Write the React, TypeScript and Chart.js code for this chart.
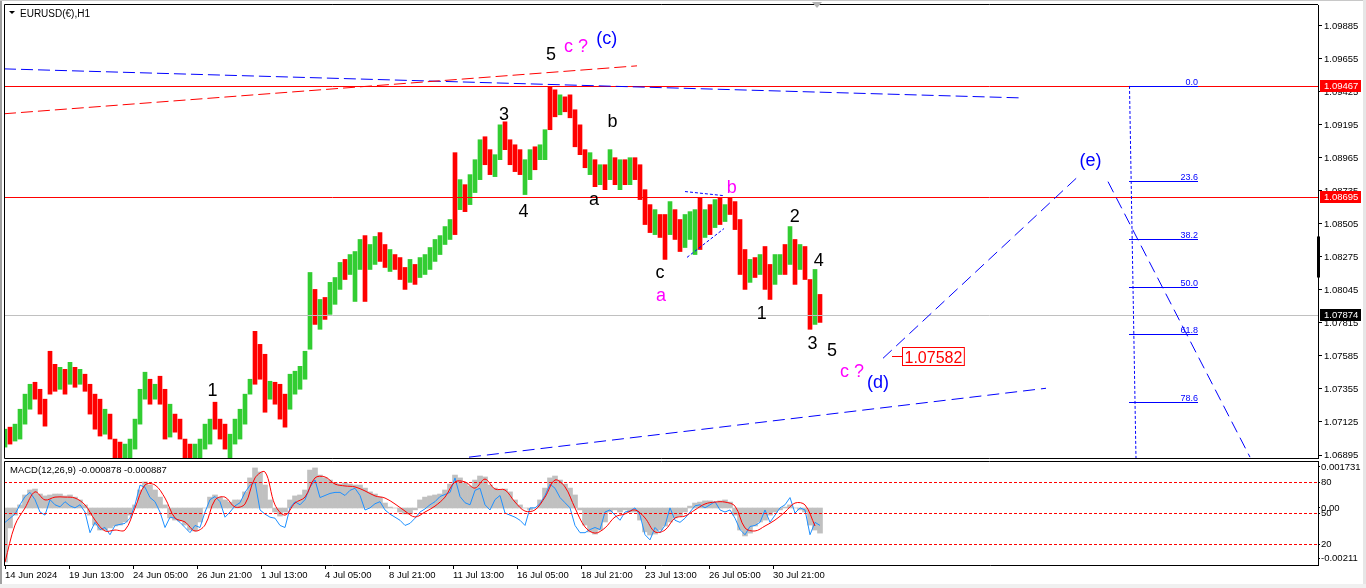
import React, { useEffect, useRef } from "react";
import { Chart, registerables } from "chart.js";

Chart.register(...registerables);

// ---------- data ----------
const BAR_STEP_H = 5; // trading hours per drawn bar
const SIGNAL_STEP_H = 10;

const barHigh = [
  1.07075, 1.07089, 1.0711, 1.07214, 1.07319, 1.07388, 1.07402, 1.07353, 1.07284, 1.07618,
  1.07527, 1.07506, 1.07492, 1.07541, 1.07506, 1.07492, 1.07458, 1.07388, 1.07319, 1.07284,
  1.07214, 1.0718, 1.07006, 1.06985, 1.06971, 1.07006, 1.07145, 1.07353, 1.07472, 1.07423,
  1.07388, 1.07444, 1.07353, 1.07249, 1.0718, 1.07145, 1.07006, 1.06971, 1.06971, 1.07006,
  1.0711, 1.07145, 1.07263, 1.07145, 1.0711, 1.0704, 1.07145, 1.07214, 1.07319, 1.07423,
  1.07757, 1.07666, 1.07597, 1.07409, 1.07402, 1.07388, 1.07319, 1.07458, 1.07479, 1.07513,
  1.07618, 1.08167, 1.08049, 1.07979, 1.07993, 1.08098, 1.08132, 1.08237, 1.08258, 1.08292,
  1.08313, 1.08397, 1.08424, 1.08362, 1.08418, 1.08445, 1.08362, 1.08327, 1.08292, 1.08271,
  1.08202, 1.08258, 1.08223, 1.08271, 1.08292, 1.08341, 1.08397, 1.08424, 1.08487, 1.08536,
  1.09002, 1.08814, 1.08779, 1.08849, 1.08953, 1.09092, 1.09113, 1.09023, 1.08988, 1.09196,
  1.09217, 1.09092, 1.09057, 1.09023, 1.08953, 1.09023, 1.09043, 1.09057, 1.09162, 1.09461,
  1.0944, 1.09405, 1.09391, 1.09405, 1.09301, 1.09196, 1.09023, 1.09002, 1.08953, 1.08918,
  1.08918, 1.09023, 1.08967, 1.08953, 1.08953, 1.08967, 1.08967, 1.08918, 1.08744, 1.0864,
  1.08605, 1.08571, 1.08571, 1.08661, 1.08605, 1.08536, 1.08571, 1.08591, 1.08605, 1.08689,
  1.08605, 1.0864, 1.08675, 1.08689, 1.0864, 1.08689, 1.08661, 1.08536, 1.08327, 1.08258,
  1.08271, 1.08292, 1.08348, 1.08223, 1.08292, 1.08292, 1.08362, 1.08487, 1.08397, 1.08362,
  1.08348, 1.08118, 1.08188, 1.08014,
];

const barLow = [
  1.0695, 1.06971, 1.06992, 1.07006, 1.0711, 1.07214, 1.07284, 1.0718, 1.07096, 1.07319,
  1.07339, 1.07353, 1.07319, 1.07388, 1.07367, 1.07388, 1.07339, 1.0718, 1.07075, 1.07027,
  1.0704, 1.07006, 1.0685, 1.0684, 1.0685, 1.0686, 1.06936, 1.0711, 1.07284, 1.07249,
  1.07284, 1.07249, 1.07006, 1.0702, 1.07054, 1.07006, 1.0685, 1.0684, 1.0685, 1.0686,
  1.06936, 1.06971, 1.07075, 1.07006, 1.06936, 1.0686, 1.06971, 1.07006, 1.0711, 1.07319,
  1.07388, 1.07423, 1.07193, 1.07284, 1.07249, 1.07145, 1.07089, 1.07214, 1.07319, 1.07353,
  1.07423, 1.07632, 1.07805, 1.07771, 1.0784, 1.07875, 1.07945, 1.08049, 1.08118, 1.08153,
  1.07965, 1.08188, 1.07965, 1.08188, 1.08223, 1.08244, 1.08202, 1.08174, 1.08188, 1.08118,
  1.08049, 1.08098, 1.08084, 1.08132, 1.08153, 1.08188, 1.08244, 1.08292, 1.08362, 1.08397,
  1.08431, 1.08605, 1.08591, 1.0864, 1.08724, 1.08814, 1.08918, 1.08849, 1.08835, 1.08953,
  1.09023, 1.08918, 1.0887, 1.08849, 1.0871, 1.08814, 1.08883, 1.08953, 1.08953, 1.09162,
  1.09252, 1.09266, 1.09287, 1.09245, 1.09043, 1.08988, 1.08897, 1.08849, 1.08765, 1.08779,
  1.08744, 1.08814, 1.08779, 1.08744, 1.08779, 1.08779, 1.08814, 1.08675, 1.08501, 1.08445,
  1.08431, 1.08411, 1.08258, 1.08431, 1.08397, 1.08313, 1.08341, 1.08397, 1.08292, 1.08327,
  1.08411, 1.08431, 1.0848, 1.08501, 1.08522, 1.08571, 1.08466, 1.08153, 1.08049, 1.08098,
  1.08132, 1.08153, 1.08049, 1.07979, 1.08084, 1.08153, 1.08153, 1.08223, 1.08084, 1.08188,
  1.08118, 1.07771, 1.07805, 1.07819,
];

const barDir =
  "uduuuudddd" + "dudududddd" + "uddduuuuud" + "uddudddduu" + "uuddduuuuu" +
  "ddduddduuu" + "uududuuudu" + "uuduuddudd" + "duduuuuuuu" + "duduuudduu" +
  "dddduuduud" + "dudddddudu" + "dudududddd" + "uddudduuud" + "udududdddu" +
  "dudduududu" + "ddud";

const macdHist = [
  -0.00228, -0.00084, -0.0003, 0.00013, 0.00055, 0.00076, 0.0008, 0.00059, 0.00051, 0.00055,
  0.00059, 0.00059, 0.00051, 0.00055, 0.00046, 0.00034, 0.00013, -0.0003, -0.00072, -0.00093,
  -0.00093, -0.00084, -0.00076, -0.00072, -0.00059, -0.0003, 0.00013, 0.00076, 0.0011, 0.00097,
  0.00076, 0.00046, 0.00013, -0.00042, -0.00051, -0.00055, -0.00072, -0.00093, -0.00097, -0.00059,
  0, 0.00046, 0.00055, 0.00046, 0.00034, 0.00025, 0.00034, 0.00034, 0.00068, 0.00127,
  0.00169, 0.00152, 0.00097, 0.00034, -0.00017, -0.00034, -0.00017, 0.00034, 0.00051, 0.00055,
  0.00076, 0.0016, 0.00169, 0.00139, 0.00127, 0.00118, 0.00106, 0.00101, 0.00106, 0.00101,
  0.00097, 0.00097, 0.00084, 0.00068, 0.00059, 0.00046, 0.00021, 0.00004, 0, -0.00017,
  -0.00025, -0.00025, -0.00008, 0.00034, 0.00046, 0.00051, 0.00055, 0.00059, 0.00076, 0.00101,
  0.00139, 0.00127, 0.00106, 0.00093, 0.00118, 0.00135, 0.00131, 0.00097, 0.00084, 0.00076,
  0.0008, 0.00068, 0.00034, 0.00013, 0, -0.00008, 0, 0.00034, 0.00084, 0.00127,
  0.00135, 0.00118, 0.00101, 0.00084, 0.00055, -0.00008, -0.00072, -0.00101, -0.0011, -0.00093,
  -0.00059, -0.00017, -0.00008, -0.00017, -0.00008, -0.00017, -0.00017, -0.00051, -0.00101, -0.00114,
  -0.0011, -0.00093, -0.00076, -0.00059, -0.00042, -0.00034, -0.00017, 0.00008, 0.00021, 0.00025,
  0.0003, 0.0003, 0.00025, 0.0003, 0.00034, 0.00025, -0.0003, -0.00093, -0.00118, -0.00106,
  -0.00076, -0.00059, -0.00051, -0.0003, -0.00017, -0.00008, 0.00004, 0.00013, 0, -0.00008,
  -0.00017, -0.00072, -0.00093, -0.00106,
];

const macdSignal = [
  -0.00228, -0.00072, 0, 0.00068, 0.00034, 0.00046, 0.00046, 0.00042, 0.00013, -0.00051,
  -0.00097, -0.00093, -0.00093, 0, 0.00097, 0.00097, 0.00042, -0.00042, -0.00059, -0.00097,
  -0.00072, 0.00034, 0.00046, 0.00004, 0.00017, 0.00127, 0.00152, 0.00013, -0.0003, 0.00021,
  0.00046, 0.00127, 0.00131, 0.00101, 0.00093, 0.00089, 0.00072, 0.00051, 0.00042, 0.00017,
  -0.00013, -0.00038, -0.00017, 0.00008, 0.00046, 0.0011, 0.0011, 0.00084, 0.00122, 0.0008,
  0.00076, 0.00025, -0.00013, -0.00008, 0.00046, 0.00118, 0.00089, 0, -0.0008, -0.00106,
  -0.00084, -0.00038, -0.00025, -0.00008, -0.00042, -0.00101, -0.00093, -0.00042, -0.00034, -0.00008,
  0.00017, 0.00025, 0.00025, 0.00008, -0.00084, -0.00097, -0.00076, -0.00051, -0.00017, 0.00021,
  0.00013, -0.00076,
];

const oscLine = [
  41, 45, 49, 58, 66, 70, 63, 51, 48, 63,
  58, 56, 61, 57, 55, 58, 51, 31, 41, 34,
  36, 29, 38, 39, 40, 45, 58, 77, 75, 65,
  61, 51, 36, 46, 45, 41, 36, 31, 38, 36,
  51, 63, 66, 61, 46, 51, 57, 60, 70, 77,
  80, 53, 49, 46, 45, 38, 36, 55, 61, 58,
  63, 75, 82, 65, 67, 69, 70, 70, 67, 72,
  74, 67, 53, 55, 59, 61, 53, 49, 46, 43,
  38, 40, 45, 51, 54, 58, 61, 66, 68, 70,
  84, 66, 60, 58, 72, 74, 58, 53, 63, 67,
  50, 48, 46, 43, 38, 55, 55, 59, 67, 78,
  74, 65, 60, 55, 38, 31, 31, 34, 36, 34,
  51, 53, 48, 43, 51, 52, 55, 48, 29, 24,
  36, 31, 38, 55, 43, 41, 45, 51, 57, 58,
  55, 58, 61, 53, 51, 53, 45, 34, 29, 37,
  38, 41, 53, 41, 48, 55, 58, 65, 50, 55,
  53, 29, 41, 38,
];

const priceTicks = [
  1.09885, 1.09655, 1.09425, 1.09195, 1.08965, 1.08735, 1.08505,
  1.08275, 1.08045, 1.07815, 1.07585, 1.07355, 1.07125, 1.06895,
];

const timeTickHours = [0, 64, 128, 192, 256, 320, 384, 448, 512, 576, 640, 704, 768];
const timeLabels = [
  "14 Jun 2024", "19 Jun 13:00", "24 Jun 05:00", "26 Jun 21:00", "1 Jul 13:00",
  "4 Jul 05:00", "8 Jul 21:00", "11 Jul 13:00", "16 Jul 05:00", "18 Jul 21:00",
  "23 Jul 13:00", "26 Jul 05:00", "30 Jul 21:00",
];

const oscLevels = [80, 50, 20];
const macdAxisValues = [0.001731, 0, -0.00211];
const macdAxisLabels = ["0.001731", "0.00", "-0.00211"];

const PRICE_MIN = 1.068741;
const PRICE_MAX = 1.100311;
const MACD_MIN = -0.002405;
const MACD_MAX = 0.001983;
const OSC_MIN = -0.3;
const OSC_MAX = 100.4;
const H_MIN = -1;
const H_MAX = 1313;

const levelLines = [
  { price: 1.09467, color: "#FF0000" },
  { price: 1.08695, color: "#FF0000" },
];
const bidPrice = 1.07874;
const priceBadges = [
  { price: 1.09467, bg: "#FF0000" },
  { price: 1.08695, bg: "#FF0000" },
  { price: 1.07874, bg: "#000000" },
];

const trendLines = [
  { h1: -1, p1: 1.09586, h2: 1014, p2: 1.09384, color: "#0000FF", dash: [12, 5] },
  { h1: -1, p1: 1.09273, h2: 632, p2: 1.09607, color: "#FF0000", dash: [12, 5] },
  { h1: 464, p1: 1.0688, h2: 1041, p2: 1.0736, color: "#0000FF", dash: [12, 6] },
  { h1: 878, p1: 1.07569, h2: 1073, p2: 1.08835, color: "#0000FF", dash: [12, 6] },
  { h1: 1103, p1: 1.088, h2: 1245, p2: 1.0688, color: "#0000FF", dash: [12, 6] },
  { h1: 680, p1: 1.08731, h2: 718, p2: 1.08703, color: "#0000FF", dash: [3, 2] },
  { h1: 682, p1: 1.08272, h2: 719, p2: 1.08473, color: "#0000FF", dash: [3, 2] },
];

const BLACK = "#000000";
const MAGENTA = "#FF00FF";
const BLUE = "#0000FF";
const waveLabels = [
  { t: "1", h: 207.5, p: 1.07305, c: BLACK },
  { t: "3", h: 499, p: 1.09231, c: BLACK },
  { t: "4", h: 518.5, p: 1.08557, c: BLACK },
  { t: "5", h: 546, p: 1.09649, c: BLACK },
  { t: "c ?", h: 571, p: 1.09706, c: MAGENTA },
  { t: "(c)", h: 601.7, p: 1.0976, c: BLUE },
  { t: "b", h: 607.5, p: 1.09183, c: BLACK },
  { t: "a", h: 589, p: 1.0864, c: BLACK },
  { t: "c", h: 655, p: 1.08132, c: BLACK },
  { t: "a", h: 656, p: 1.07968, c: MAGENTA },
  { t: "b", h: 726.7, p: 1.08724, c: MAGENTA },
  { t: "2", h: 789.7, p: 1.08522, c: BLACK },
  { t: "1", h: 756.7, p: 1.07845, c: BLACK },
  { t: "4", h: 813.7, p: 1.08209, c: BLACK },
  { t: "3", h: 807.5, p: 1.07632, c: BLACK },
  { t: "5", h: 827, p: 1.07583, c: BLACK },
  { t: "c ?", h: 847, p: 1.07437, c: MAGENTA },
  { t: "(d)", h: 873, p: 1.07364, c: BLUE },
  { t: "(e)", h: 1085.5, p: 1.08908, c: BLUE },
];

const fibHigh = 1.09467;
const fibLow = 1.06668;
const fibLevels = [0, 23.6, 38.2, 50, 61.8, 78.6];
const fibH1 = 1124;
const fibH2 = 1131;
const fibLabelEndH = 1193;

const targetPrice = 1.07582;
const targetH = 887;

const axisMarkRange = [1.08132, 1.08418];

const UP = "#32CD32";
const DOWN = "#FF0000";
const FONT = '"Liberation Sans", Arial, sans-serif';

// ---------- plugins ----------
const mainDecor = {
  id: "mainDecor",
  afterDatasetsDraw(chart: any) {
    const { ctx, chartArea: a, scales } = chart;
    const X = (h: number) => scales.x.getPixelForValue(h);
    const Y = (p: number) => scales.y.getPixelForValue(p);
    ctx.save();
    ctx.beginPath();
    ctx.rect(a.left, a.top, a.right - a.left, a.bottom - a.top);
    ctx.clip();
    ctx.lineWidth = 1;
    const hline = (p: number, color: string) => {
      const yy = Math.round(Y(p)) + 0.5;
      ctx.strokeStyle = color;
      ctx.setLineDash([]);
      ctx.beginPath();
      ctx.moveTo(a.left, yy);
      ctx.lineTo(a.right, yy);
      ctx.stroke();
    };
    hline(bidPrice, "#C0C0C0");
    levelLines.forEach((l) => hline(l.price, l.color));

    trendLines.forEach((t) => {
      ctx.strokeStyle = t.color;
      ctx.setLineDash(t.dash);
      ctx.beginPath();
      ctx.moveTo(X(t.h1), Y(t.p1));
      ctx.lineTo(X(t.h2), Y(t.p2));
      ctx.stroke();
    });

    // fibonacci retracement
    ctx.strokeStyle = BLUE;
    ctx.setLineDash([3, 2]);
    ctx.beginPath();
    ctx.moveTo(X(fibH1) + 0.5, Y(fibHigh));
    ctx.lineTo(X(fibH2) + 0.5, Y(fibLow));
    ctx.stroke();
    ctx.setLineDash([]);
    ctx.font = `9px ${FONT}`;
    ctx.fillStyle = BLUE;
    ctx.textAlign = "right";
    ctx.textBaseline = "alphabetic";
    fibLevels.forEach((lv) => {
      const p = fibHigh - (lv / 100) * (fibHigh - fibLow);
      const yy = Math.round(Y(p)) + 0.5;
      ctx.beginPath();
      ctx.moveTo(X(fibH1), yy);
      ctx.lineTo(X(fibLabelEndH), yy);
      ctx.stroke();
      ctx.fillText(lv.toFixed(1), X(fibLabelEndH), yy - 2);
    });

    // wave labels
    ctx.font = `18px ${FONT}`;
    ctx.textAlign = "center";
    waveLabels.forEach((w) => {
      ctx.fillStyle = w.c;
      ctx.fillText(w.t, X(w.h), Y(w.p));
    });

    // target price box
    const ty = Math.round(Y(targetPrice)) + 0.5;
    const tx = Math.round(X(targetH));
    ctx.strokeStyle = "#FF0000";
    ctx.beginPath();
    ctx.moveTo(tx, ty);
    ctx.lineTo(tx + 10, ty);
    ctx.stroke();
    ctx.font = `16px ${FONT}`;
    const txt = targetPrice.toFixed(5);
    const w = ctx.measureText(txt).width;
    ctx.fillStyle = "#FFFFFF";
    ctx.fillRect(tx + 10.5, ty - 9, w + 4, 18);
    ctx.strokeRect(tx + 10.5, ty - 9, w + 4, 18);
    ctx.fillStyle = "#FF0000";
    ctx.textAlign = "left";
    ctx.fillText(txt, tx + 12.5, ty + 6.5);
    ctx.restore();
  },
  afterDraw(chart: any) {
    const { ctx, chartArea: a, scales } = chart;
    const X = (h: number) => scales.x.getPixelForValue(h);
    const Y = (p: number) => scales.y.getPixelForValue(p);
    ctx.save();
    ctx.strokeStyle = "#000";
    ctx.lineWidth = 1;
    ctx.setLineDash([]);
    ctx.beginPath();
    ctx.moveTo(a.left + 0.5, a.top - 0.5);
    ctx.lineTo(a.right, a.top - 0.5);
    ctx.moveTo(a.left + 0.5, a.top - 0.5);
    ctx.lineTo(a.left + 0.5, a.bottom + 0.5);
    ctx.lineTo(a.right, a.bottom + 0.5);
    ctx.stroke();

    // axis mark
    ctx.fillStyle = "#000";
    const y1 = Y(axisMarkRange[1]);
    const y2 = Y(axisMarkRange[0]);
    ctx.fillRect(a.right - 1, y1, 3, y2 - y1);

    // price badges
    ctx.font = `9.5px ${FONT}`;
    ctx.textBaseline = "middle";
    ctx.textAlign = "left";
    priceBadges.forEach((b) => {
      const yy = Math.round(Y(b.price));
      ctx.fillStyle = b.bg;
      ctx.fillRect(a.right + 2, yy - 6, 41, 12);
      ctx.fillStyle = "#FFFFFF";
      ctx.fillText(b.price.toFixed(5), a.right + 6, yy + 0.5);
    });

    // title
    ctx.fillStyle = "#000";
    ctx.beginPath();
    ctx.moveTo(9, 11);
    ctx.lineTo(15, 11);
    ctx.lineTo(12, 14);
    ctx.closePath();
    ctx.fill();
    ctx.textBaseline = "alphabetic";
    ctx.font = `10px ${FONT}`;
    ctx.fillText("EURUSD(€),H1", 20, 16.5);

    // chart shift marker
    const sx = Math.round(X(812));
    ctx.fillStyle = "#B4B4B4";
    ctx.beginPath();
    ctx.moveTo(sx - 5, 2);
    ctx.lineTo(sx + 5, 2);
    ctx.lineTo(sx, 8);
    ctx.closePath();
    ctx.fill();
    ctx.restore();
  },
};

const macdDecor = {
  id: "macdDecor",
  afterDatasetsDraw(chart: any) {
    const { ctx, chartArea: a, scales } = chart;
    const O = (v: number) => scales.o.getPixelForValue(v);
    ctx.save();
    ctx.beginPath();
    ctx.rect(a.left, a.top, a.right - a.left, a.bottom - a.top);
    ctx.clip();
    ctx.strokeStyle = "#FF0000";
    ctx.lineWidth = 1;
    ctx.setLineDash([3, 2]);
    oscLevels.forEach((lv) => {
      const yy = Math.round(O(lv)) + 0.5;
      ctx.beginPath();
      ctx.moveTo(a.left, yy);
      ctx.lineTo(a.right, yy);
      ctx.stroke();
    });
    ctx.restore();
  },
  afterDraw(chart: any) {
    const { ctx, chartArea: a } = chart;
    ctx.save();
    ctx.strokeStyle = "#000";
    ctx.lineWidth = 1;
    ctx.beginPath();
    ctx.moveTo(a.left + 0.5, a.bottom);
    ctx.lineTo(a.left + 0.5, a.top + 0.5);
    ctx.lineTo(a.right, a.top + 0.5);
    ctx.stroke();
    ctx.fillStyle = "#000";
    ctx.font = `9.5px ${FONT}`;
    ctx.textBaseline = "alphabetic";
    ctx.textAlign = "left";
    ctx.fillText("MACD(12,26,9) -0.000878 -0.000887", a.left + 6, a.top + 12);
    ctx.restore();
  },
};

const toOsc = (v: number) => OSC_MIN + ((v - MACD_MIN) / (MACD_MAX - MACD_MIN)) * (OSC_MAX - OSC_MIN);

export default function App() {
  const ref1 = useRef<HTMLCanvasElement>(null);
  const ref2 = useRef<HTMLCanvasElement>(null);

  useEffect(() => {
    const candleData = barHigh.map((hi, i) => ({ x: i * BAR_STEP_H, y: [barLow[i], hi] }));
    const candleColors = barHigh.map((_, i) => (barDir[i] === "u" ? UP : DOWN));

    const c1 = new Chart(ref1.current as HTMLCanvasElement, {
      type: "bar",
      data: {
        datasets: [
          {
            data: candleData as any,
            backgroundColor: candleColors,
            borderWidth: 0,
            barThickness: 4,
            grouped: false,
            clip: 0,
          } as any,
        ],
      },
      options: {
        animation: false,
        responsive: false,
        devicePixelRatio: 1,
        events: [],
        layout: { padding: { left: 4, top: 5, right: 0, bottom: 1 } },
        plugins: { legend: { display: false }, tooltip: { enabled: false } },
        scales: {
          x: {
            type: "linear",
            min: H_MIN,
            max: H_MAX,
            display: false,
            offset: false,
            grid: { offset: false },
          },
          y: {
            type: "linear",
            position: "right",
            min: PRICE_MIN,
            max: PRICE_MAX,
            afterBuildTicks: (s: any) => {
              s.ticks = priceTicks.map((v) => ({ value: v }));
            },
            afterFit: (s: any) => {
              s.width = 48;
              s.paddingTop = 0;
              s.paddingBottom = 0;
            },
            ticks: {
              callback: (v: any) => Number(v).toFixed(5),
              color: "#000",
              font: { family: FONT, size: 9.5 },
              padding: 2,
              autoSkip: false,
            },
            grid: { drawOnChartArea: false, drawTicks: true, tickLength: 4, color: "#000" },
            border: { display: true, color: "#000" },
          },
        },
      } as any,
      plugins: [mainDecor],
    });

    const oscTicks = [
      ...macdAxisValues.map((v, i) => ({ value: toOsc(v), label: macdAxisLabels[i] })),
      ...oscLevels.map((v) => ({ value: v, label: String(v) })),
    ].sort((p, q) => p.value - q.value);

    const c2 = new Chart(ref2.current as HTMLCanvasElement, {
      type: "bar",
      data: {
        datasets: [
          {
            type: "line",
            data: macdSignal.map((v, i) => ({ x: i * SIGNAL_STEP_H, y: v })),
            yAxisID: "m",
            borderColor: "#FF0000",
            borderWidth: 1,
            pointRadius: 0,
            tension: 0.35,
            clip: 0,
          },
          {
            type: "line",
            data: oscLine.map((v, i) => ({ x: i * BAR_STEP_H, y: v })),
            yAxisID: "o",
            borderColor: "#1E90FF",
            borderWidth: 1,
            pointRadius: 0,
            tension: 0,
            clip: 0,
          },
          {
            type: "bar",
            data: macdHist.map((v, i) => ({ x: i * BAR_STEP_H, y: v })),
            yAxisID: "m",
            backgroundColor: "#C0C0C0",
            borderWidth: 0,
            barThickness: 5,
            grouped: false,
            clip: 0,
          },
        ] as any,
      },
      options: {
        animation: false,
        responsive: false,
        devicePixelRatio: 1,
        events: [],
        layout: { padding: { left: 4, top: 2, right: 0, bottom: 0 } },
        plugins: { legend: { display: false }, tooltip: { enabled: false } },
        scales: {
          x: {
            type: "linear",
            position: "bottom",
            min: H_MIN,
            max: H_MAX,
            offset: false,
            afterBuildTicks: (s: any) => {
              s.ticks = timeTickHours.map((v) => ({ value: v }));
            },
            afterFit: (s: any) => {
              s.height = 23;
              s.paddingLeft = 0;
              s.paddingRight = 0;
            },
            ticks: {
              callback: (_v: any, i: number) => timeLabels[i],
              align: "start",
              maxRotation: 0,
              minRotation: 0,
              autoSkip: false,
              padding: 1,
              color: "#000",
              font: { family: FONT, size: 9.5 },
            },
            grid: { offset: false, drawOnChartArea: false, drawTicks: true, tickLength: 4, color: "#000" },
            border: { display: true, color: "#000" },
          },
          m: {
            axis: "y",
            type: "linear",
            position: "right",
            display: false,
            min: MACD_MIN,
            max: MACD_MAX,
          },
          o: {
            axis: "y",
            type: "linear",
            position: "right",
            min: OSC_MIN,
            max: OSC_MAX,
            afterBuildTicks: (s: any) => {
              s.ticks = oscTicks.map((t) => ({ value: t.value }));
            },
            afterFit: (s: any) => {
              s.width = 48;
              s.paddingTop = 0;
              s.paddingBottom = 0;
            },
            ticks: {
              callback: (_v: any, i: number) => oscTicks[i].label,
              color: "#000",
              font: { family: FONT, size: 9.5 },
              padding: 1,
              autoSkip: false,
            },
            grid: { drawOnChartArea: false, drawTicks: true, tickLength: 2, color: "#000" },
            border: { display: true, color: "#000" },
          },
        },
      } as any,
      plugins: [macdDecor],
    });

    return () => {
      c1.destroy();
      c2.destroy();
    };
  }, []);

  return (
    <div
      style={{
        position: "fixed",
        left: 0,
        top: 0,
        width: 1366,
        height: 588,
        background: "#FFFFFF",
        overflow: "hidden",
      }}
    >
      <canvas
        ref={ref1}
        width={1366}
        height={459}
        style={{ position: "absolute", left: 0, top: 0, width: 1366, height: 459 }}
      />
      <canvas
        ref={ref2}
        width={1366}
        height={129}
        style={{ position: "absolute", left: 0, top: 459, width: 1366, height: 129 }}
      />
      <div style={{ position: "absolute", left: 0, top: 0, width: 2, height: 588, background: "#A0A0A0" }} />
      <div style={{ position: "absolute", left: 0, top: 0, width: 1366, height: 1, background: "#C8C8C8" }} />
      <div style={{ position: "absolute", left: 1363, top: 0, width: 3, height: 588, background: "#E6E6E6" }} />
      <div style={{ position: "absolute", left: 0, top: 584, width: 1366, height: 4, background: "#F0F0F0" }} />
    </div>
  );
}
